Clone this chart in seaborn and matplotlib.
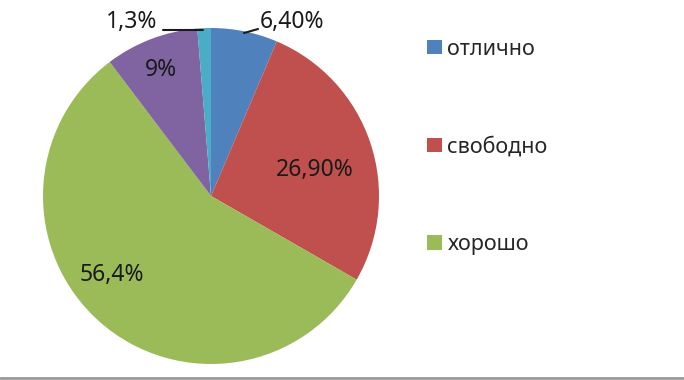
import matplotlib
matplotlib.use("Agg")
import matplotlib.pyplot as plt
import seaborn as sns

# данные диаграммы
categories = ["отлично", "свободно", "хорошо", "неуд", "другое"]
values = [6.4, 26.9, 56.4, 9.0, 1.3]
value_labels = ["6,40%", "26,90%", "56,4%", "9%", "1,3%"]
legend_count = 3
colors = ["#4F81BD", "#C0504D", "#9BBB59", "#8064A2", "#4BACC6"]

sns.set_theme(style="white")
plt.rcParams["font.family"] = ["Noto Sans", "DejaVu Sans"]

fig = plt.figure(figsize=(6.84, 3.80), dpi=100)
ax = fig.add_axes([43 / 684, 16 / 380, 336 / 684, 336 / 380])

wedges, _ = ax.pie(values, colors=sns.color_palette(colors), startangle=90,
                   counterclock=False, radius=1.0,
                   wedgeprops=dict(linewidth=0))
ax.set_xlim(-1, 1)
ax.set_ylim(-1, 1)
ax.set_aspect("equal")
ax.axis("off")

# подписи значений
label_pos = [(0.485, 1.035), (0.62, 0.155), (-0.59, -0.47), (-0.30, 0.75), (-0.47, 1.035)]
for (x, y), txt in zip(label_pos, value_labels):
    ax.text(x, y, txt, ha="center", va="center", fontsize=16.5, color="#1a1a1a",
            clip_on=False)

# выноски
ax.plot([-0.286, -0.048], [0.988, 0.988], color="#1a1a1a", lw=1.5, clip_on=False)
ax.plot([0.196, 0.28], [0.97, 0.994], color="#1a1a1a", lw=1.5, clip_on=False)

leg = fig.legend(wedges[:legend_count], categories[:legend_count],
                 loc="upper left", bbox_to_anchor=(408 / 684, 1 - 19.5 / 380),
                 frameon=False, fontsize=15.5, labelspacing=3.56,
                 handlelength=0.7, handleheight=0.65, handletextpad=0.23)

fig.add_artist(plt.Line2D([0, 1], [2 / 380, 2 / 380], color="#999999", lw=2,
                          transform=fig.transFigure))

fig.savefig("out.png", dpi=100)
